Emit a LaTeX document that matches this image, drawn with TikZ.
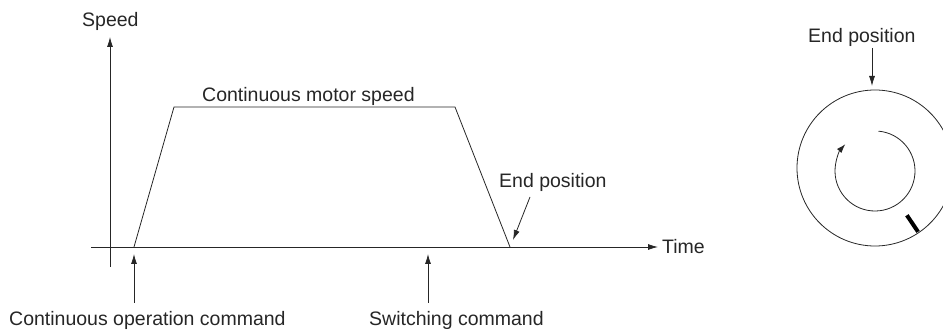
\documentclass[tikz,border=0pt]{standalone}
\usepackage{fontspec}
\setmainfont{Liberation Sans}
\usetikzlibrary{arrows.meta}
\begin{document}
\begin{tikzpicture}[x=1pt,y=-1pt,
  line/.style={line width=0.8pt,color=black!85},
  arr/.style={line, -{Latex[length=10pt,width=6pt]}},
  lbl/.style={inner sep=0pt,anchor=base west,font=\fontsize{19.5}{22}\selectfont,text=black!85}]
\useasboundingbox (0,0) rectangle (943,331);
% labels
\node[lbl] (speed) at (82,27) {Speed};
\node[lbl] (time) at (662,254) {Time};
\node[lbl] (cms) at (202,102) {Continuous motor speed};
\node[lbl] (ep) at (499,188) {End position};
\node[lbl] (coc) at (9,325) {Continuous operation command};
\node[lbl] (sw) at (369,325) {Switching command};
\node[lbl] (ep2) at (808,43) {End position};
% axes
\coordinate (yb) at (110,267);
\coordinate (yt) at (110,37);
\coordinate (xl) at (91,247);
\coordinate (xr) at (658,247);
\draw[arr] (yb) -- (yt);
\draw[arr] (xl) -- (xr);
% speed profile
\coordinate (p0) at (134,247);
\coordinate (p1) at (174,107);
\coordinate (p2) at (455,107);
\coordinate (p3) at (510,247);
\draw[line] (p0) -- (p1) -- (p2) -- (p3);
% command arrows
\coordinate (c1) at (134,303);
\coordinate (c1t) at (134,254);
\draw[arr] (c1) -- (c1t);
\coordinate (c2) at (428,303);
\coordinate (c2t) at (428,254);
\draw[arr] (c2) -- (c2t);
\coordinate (e1) at (530,197);
\coordinate (e1t) at (513,240);
\draw[arr] (e1) -- (e1t);
% disc
\coordinate (cc) at (875,168);
\draw[line] (cc) circle[radius=78];
\coordinate (e2) at (872,48);
\coordinate (e2t) at (872,86);
\draw[arr] (e2) -- (e2t);
\draw[line,-{Latex[length=9pt,width=6pt]}] ([shift={(-85:40)}]875,171) arc[start angle=-85,end angle=222,radius=40];
\draw[line width=4pt] ([shift={(56:57)}]cc) -- ([shift={(56:77)}]cc);
\end{tikzpicture}
\end{document}
